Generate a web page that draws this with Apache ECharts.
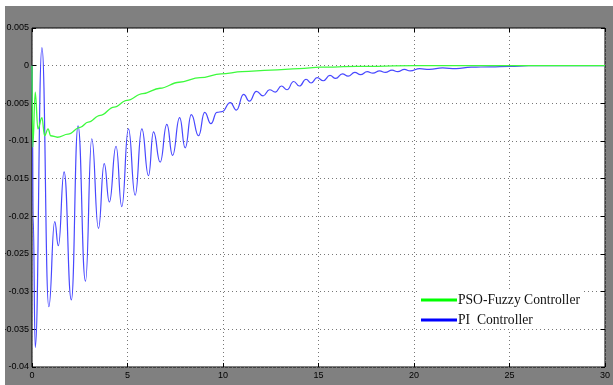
<!DOCTYPE html>
<html>
<head>
<meta charset="utf-8">
<script src="https://cdn.jsdelivr.net/npm/echarts@6/dist/echarts.min.js"></script>
<style>
  body { margin: 0; background: #fff; }
  #chart { position: absolute; left: 5px; top: 6px; width: 608px; height: 379px; }
</style>
</head>
<body>
<div id="chart"></div>
<script>
// time (s) / error values
const greenT = [0, 0.04, 0.17, 0.31, 0.52, 0.66, 0.84, 0.98, 1.33, 1.89, 2.52, 2.94, 3.57, 4.3, 4.97, 5.8, 6.7, 7.7, 8.8, 9.9, 11, 12.5, 14, 15.1, 17, 20, 30]
const greenV = [0, -0.0108, -0.0035, -0.0084, -0.0069, -0.0093, -0.0084, -0.0093, -0.0095, -0.0091, -0.0082, -0.0075, -0.0066, -0.0055, -0.0046, -0.0037, -0.003, -0.0022, -0.0016, -0.0011, -0.0008, -0.0006, -0.0004, -0.0002, -0.0001, 0, 0]

const blueT = [0, 0.02, 0.06, 0.17, 0.52, 0.88, 1.19, 1.38, 1.68, 2.06, 2.41, 2.8, 3.13, 3.48, 3.78, 4.05, 4.4, 4.7, 5.05, 5.4, 5.75, 6.1, 6.36, 6.71, 7.06, 7.36, 7.73, 8.02, 8.34, 8.72, 9.04, 9.37, 9.68, 9.95, 10.38, 10.7, 11.08, 11.38, 11.75, 12.1, 12.44, 12.74, 13.06, 13.35, 13.7, 14, 14.35, 14.61, 14.93, 15.25, 15.6, 15.9, 16.25, 16.55, 16.9, 17.2, 17.55, 17.85, 18.2, 18.5, 18.85, 19.15, 19.5, 19.8, 20.3, 20.8, 21.5, 22.2, 23, 24, 25, 26, 30]
const blueV = [0, -0.006, -0.02, -0.0374, 0.0024, -0.032, -0.0207, -0.0239, -0.0141, -0.0311, -0.008, -0.0286, -0.0097, -0.0216, -0.013, -0.0181, -0.0107, -0.0187, -0.0084, -0.0172, -0.0084, -0.0146, -0.0088, -0.0128, -0.0078, -0.0119, -0.0069, -0.0109, -0.0065, -0.0093, -0.0062, -0.0077, -0.0062, -0.0061, -0.0049, -0.0059, -0.0038, -0.0047, -0.0034, -0.004, -0.0032, -0.0035, -0.0027, -0.0032, -0.0021, -0.0027, -0.0018, -0.0023, -0.0016, -0.002, -0.0013, -0.0017, -0.0011, -0.0014, -0.0009, -0.0012, -0.0008, -0.001, -0.0007, -0.0009, -0.0006, -0.0008, -0.0005, -0.0007, -0.0004, -0.0005, -0.0003, -0.0004, -0.0002, -0.00015, -0.0001, 0, 0]

const names = ['PSO-Fuzzy Controller', 'PI  Controller']

const pairs = (t, v) => t.map((x, i) => [x, v[i]])

const myChart = echarts.init(document.getElementById('chart'))

// box ticks on top / right like the matlab frame
const tickOnly = {
  axisLine: { show: false, onZero: false },
  axisTick: { inside: true, length: 4, lineStyle: { color: '#000' } },
  axisLabel: { show: false },
  splitLine: { show: false }
}

const option = {
  backgroundColor: '#808080',
  animation: false,
  grid: {
    left: 27, top: 22, right: 8, bottom: 18,
    outerBoundsMode: 'none',
    show: true, backgroundColor: '#fff', borderColor: '#000', borderWidth: 1
  },
  legend: {
    orient: 'vertical',
    left: 414,
    top: 285,
    itemGap: 6,
    itemWidth: 36,
    itemHeight: 3,
    icon: 'rect',
    backgroundColor: '#fff',
    padding: [2, 4, 2, 2],
    textStyle: { fontFamily: 'Liberation Serif', fontSize: 13.6, color: '#111', padding: [0, 0, 0, -4] },
    data: [
      { name: names[0], itemStyle: { color: '#00ff00' } },
      { name: names[1], itemStyle: { color: '#0000ff' } }
    ]
  },
  xAxis: [{
    type: 'value', min: 0, max: 30, interval: 5,
    axisLine: { show: false, onZero: false },
    axisTick: { inside: true, length: 4, lineStyle: { color: '#000' } },
    axisLabel: { color: '#000', fontSize: 9, fontFamily: 'Liberation Sans', margin: 4 },
    splitLine: { lineStyle: { color: '#777', type: [1, 3] } }
  }, {
    type: 'value', min: 0, max: 30, interval: 5, position: 'top', ...tickOnly
  }],
  yAxis: [{
    type: 'value', min: -0.04, max: 0.005, interval: 0.005,
    axisLine: { show: false, onZero: false },
    axisTick: { inside: true, length: 4, lineStyle: { color: '#000' } },
    axisLabel: {
      color: '#000', fontSize: 9, fontFamily: 'Liberation Sans', margin: 3,
      formatter: val => String(parseFloat(val.toFixed(3)))
    },
    splitLine: { lineStyle: { color: '#777', type: [1, 3] } }
  }, {
    type: 'value', min: -0.04, max: 0.005, interval: 0.005, position: 'right', ...tickOnly
  }],
  series: [
    {
      name: names[0], type: 'line', data: pairs(greenT, greenV),
      showSymbol: false, smooth: 0.4, smoothMonotone: 'x',
      lineStyle: { color: '#3dfa3d', width: 1.3 }, itemStyle: { color: '#00ff00' }, z: 3
    },
    {
      name: names[1], type: 'line', data: pairs(blueT, blueV),
      showSymbol: false, smooth: 0.5, smoothMonotone: 'x',
      lineStyle: { color: '#4848ff', width: 1.2 }, itemStyle: { color: '#0000ff' }, z: 2
    }
  ]
}
myChart.setOption(option)
</script>
</body>
</html>
